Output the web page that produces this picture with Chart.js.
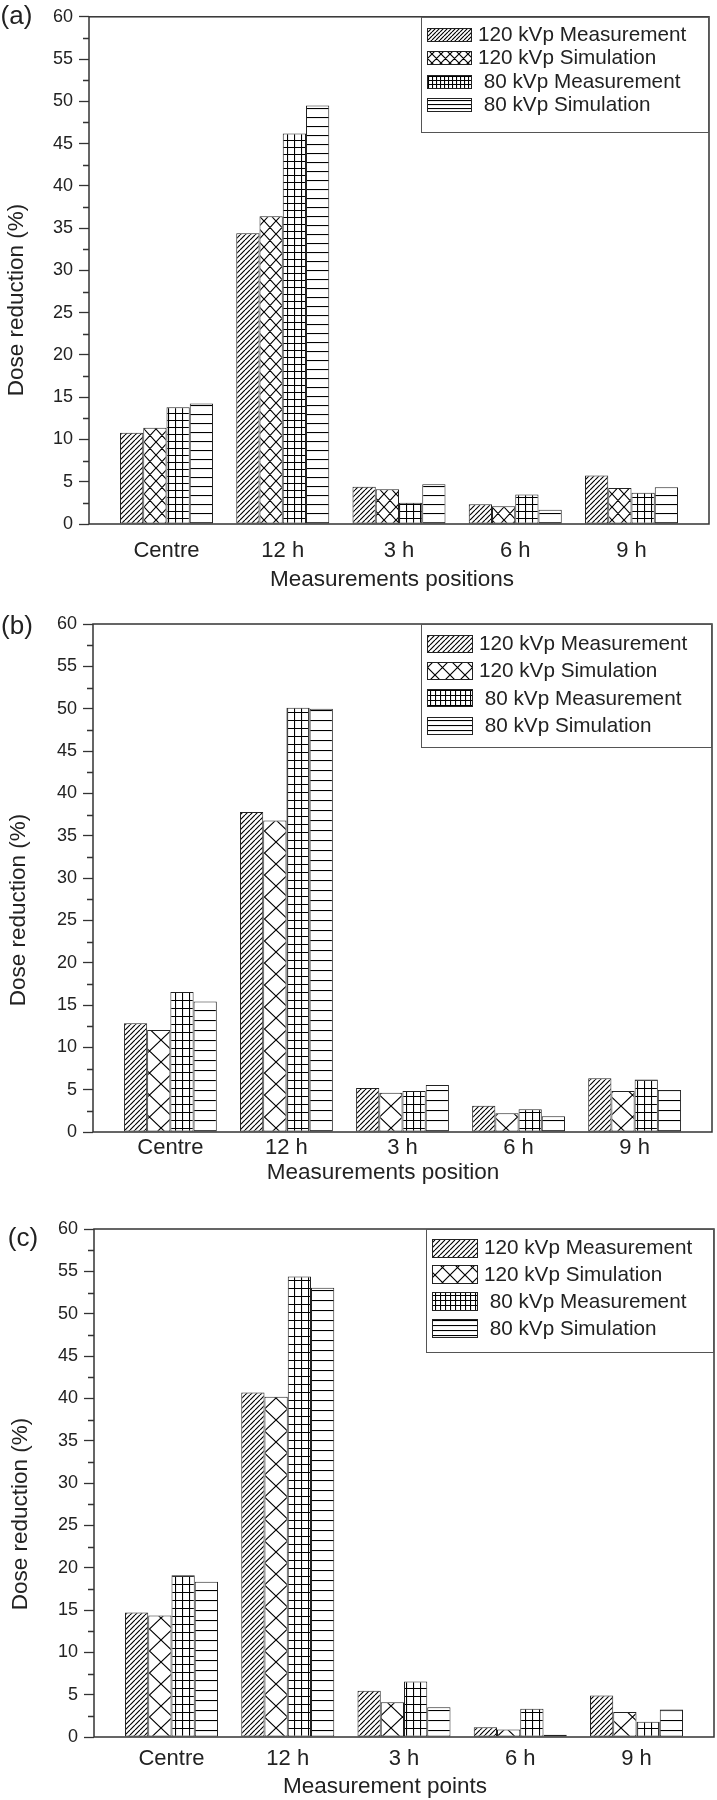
<!DOCTYPE html>
<html>
<head>
<meta charset="utf-8">
<script src="https://cdn.jsdelivr.net/npm/chart.js@4.4.1/dist/chart.umd.min.js"></script>
<style>
  body { margin: 0; background: #fff; }
  canvas { display: block; }
</style>
</head>
<body>
<canvas id="chartA" width="717" height="600"></canvas>
<canvas id="chartB" width="717" height="600"></canvas>
<canvas id="chartC" width="717" height="600"></canvas>
<script>
// ---- data ----
var categories = ['Centre', '12 h', '3 h', '6 h', '9 h'];
var seriesNames = ['120 kVp Measurement', '120 kVp Simulation', ' 80 kVp Measurement', ' 80 kVp Simulation'];
var xTitles = ['Measurements positions', 'Measurements position', 'Measurement points'];
var panelTags = ['(a)', '(b)', '(c)'];
var yTitle = 'Dose reduction (%)';
var yMin = 0, yMax = 60, yStep = 5;

// (a)
var a120Meas = [10.8, 34.4, 4.4, 2.35, 5.75];
var a120Sim  = [11.4, 36.4, 4.1, 2.1, 4.25];
var a80Meas  = [13.8, 46.2, 2.5, 3.5, 3.7];
var a80Sim   = [14.25, 49.5, 4.7, 1.7, 4.35];
// (b)
var b120Meas = [12.85, 37.8, 5.2, 3.1, 6.35];
var b120Sim  = [12.05, 36.8, 4.65, 2.2, 4.85];
var b80Meas  = [16.55, 50.1, 4.85, 2.7, 6.2];
var b80Sim   = [15.4, 50.0, 5.55, 1.85, 4.95];
// (c)
var c120Meas = [14.7, 40.7, 5.45, 1.15, 4.9];
var c120Sim  = [14.35, 40.2, 4.1, 0.9, 2.95];
var c80Meas  = [19.1, 54.4, 6.55, 3.35, 1.8];
var c80Sim   = [18.35, 53.05, 3.5, 0.27, 3.25];

var FONT = '"Liberation Sans", Arial, sans-serif';
var INK = '#222';

// hatch fills, like the black & white Origin patterns
function makePattern(kind, w, h) {
  var c = document.createElement('canvas');
  c.width = w; c.height = h;
  var g = c.getContext('2d');
  g.fillStyle = '#fff';
  g.fillRect(0, 0, w, h);
  g.strokeStyle = '#000';
  g.lineWidth = 1.15;
  g.beginPath();
  if (kind === 'diag' || kind === 'cross') {
    for (var k = -1; k <= 1; k++) {
      g.moveTo(k * w, h); g.lineTo(k * w + w, 0);
      if (kind === 'cross') { g.moveTo(k * w, 0); g.lineTo(k * w + w, h); }
    }
  } else if (kind === 'grid') {
    g.moveTo(0.5, 0); g.lineTo(0.5, h);
    g.moveTo(0, 0.5); g.lineTo(w, 0.5);
  } else {
    g.moveTo(0, 0.5); g.lineTo(w, 0.5);
  }
  g.stroke();
  return g.createPattern(c, 'repeat');
}

var kinds = ['diag', 'cross', 'grid', 'horiz'];

var panels = [
  { id: 'chartA', series: [a120Meas, a120Sim, a80Meas, a80Sim],
    area: { left: 89, top: 16, right: 709, bottom: 524 }, tickPad: 14,
    legend: { left: 421, bottom: 132, swX: 427, swW: 44, swH: 13, textX: 478, row0: 17.3, gap: 23.5 },
    tagPos: [16.5, 17], yTitlePos: [17, 300], xTitlePos: [392, 580],
    pat: [[5, 5], [12, 13], [7, 7], [9, 9]], legPat: [[4, 4], [9, 9], [4, 4], [4, 4]] },
  { id: 'chartB', series: [b120Meas, b120Sim, b80Meas, b80Sim],
    area: { left: 93, top: 24, right: 712, bottom: 532 }, tickPad: 3,
    legend: { left: 421, bottom: 147, swX: 427, swW: 45, swH: 17, textX: 479, row0: 19.5, gap: 27.2 },
    tagPos: [17, 27], yTitlePos: [19, 310], xTitlePos: [383, 573],
    pat: [[5, 5], [23, 22], [7, 8], [10, 10]], legPat: [[5, 5], [15, 15], [5, 5], [5, 5]] },
  { id: 'chartC', series: [c120Meas, c120Sim, c80Meas, c80Sim],
    area: { left: 94, top: 29, right: 714, bottom: 537 }, tickPad: 9,
    legend: { left: 426, bottom: 152, swX: 432, swW: 45, swH: 18, textX: 484, row0: 18.5, gap: 26.8 },
    tagPos: [23, 39], yTitlePos: [21, 314], xTitlePos: [385, 587],
    pat: [[5, 5], [23, 22], [7, 8], [10, 10]], legPat: [[5, 5], [15, 15], [5, 5], [5, 5]] }
];

// frame, minor ticks, legend box and texts
var decoPlugin = {
  id: 'deco',
  afterDraw: function (chart, args, o) {
    var ctx = chart.ctx, a = chart.chartArea, ys = chart.scales.y;
    ctx.save();
    ctx.strokeStyle = '#333';
    ctx.lineWidth = 1.5;
    ctx.strokeRect(a.left, a.top, a.right - a.left, a.bottom - a.top);

    ctx.lineWidth = 1.3;
    ctx.beginPath();
    for (var v = yMin + yStep / 2; v < yMax; v += yStep) {
      var py = Math.round(ys.getPixelForValue(v)) + 0.5;
      ctx.moveTo(a.left - 6, py); ctx.lineTo(a.left, py);
    }
    ctx.stroke();

    // legend
    var L = o.legend;
    ctx.strokeStyle = '#555';
    ctx.lineWidth = 1;
    ctx.strokeRect(L.left + 0.5, a.top + 0.5, a.right - L.left - 1, L.bottom - a.top);
    ctx.textBaseline = 'middle';
    ctx.textAlign = 'left';
    var fills = o.legendFills;
    var labels = chart.data.datasets.map(function (ds) { return ds.label; });
    for (var i = 0; i < labels.length; i++) {
      var cy = a.top + L.row0 + i * L.gap;
      var top = Math.round(cy - L.swH / 2) + 0.5;
      ctx.fillStyle = fills[i];
      ctx.fillRect(L.swX, top, L.swW, L.swH);
      ctx.strokeStyle = '#222';
      ctx.strokeRect(L.swX + 0.5, top, L.swW, L.swH);
      ctx.fillStyle = INK;
      ctx.font = '20.7px ' + FONT;
      ctx.fillText(labels[i], L.textX, cy + 1);
    }

    // panel tag and axis titles
    ctx.textAlign = 'center';
    ctx.font = '26px ' + FONT;
    ctx.fillText(o.tag, o.tagPos[0], o.tagPos[1]);
    ctx.font = '22.5px ' + FONT;
    ctx.fillText(o.xTitle, o.xTitlePos[0], o.xTitlePos[1]);
    ctx.translate(o.yTitlePos[0], o.yTitlePos[1]);
    ctx.rotate(-Math.PI / 2);
    ctx.fillText(yTitle, 0, 0);
    ctx.restore();
  }
};

panels.forEach(function (p, n) {
  var ctx = document.getElementById(p.id).getContext('2d');
  var datasets = p.series.map(function (vals, i) {
    return {
      label: seriesNames[i],
      data: vals.map(function (v, j) { return { x: j + 1, y: v }; }),
      backgroundColor: makePattern(kinds[i], p.pat[i][0], p.pat[i][1]),
      borderColor: '#222',
      borderWidth: 1,
      borderSkipped: false,
      categoryPercentage: 0.8,
      barPercentage: 1.0
    };
  });
  var legendFills = kinds.map(function (k, i) { return makePattern(k, p.legPat[i][0], p.legPat[i][1]); });

  new Chart(ctx, {
    type: 'bar',
    data: { datasets: datasets },
    plugins: [decoPlugin],
    options: {
      responsive: false,
      animation: false,
      devicePixelRatio: 1,
      layout: { padding: { top: p.area.top, right: 717 - p.area.right, bottom: 0, left: 0 } },
      plugins: {
        legend: { display: false },
        tooltip: { enabled: false },
        deco: {
          legend: p.legend, legendFills: legendFills, tag: panelTags[n],
          tagPos: p.tagPos, xTitle: xTitles[n], xTitlePos: p.xTitlePos, yTitlePos: p.yTitlePos
        }
      },
      scales: {
        x: {
          type: 'linear',
          offset: false,
          min: 1 / 3,
          max: categories.length + 2 / 3,
          afterFit: function (s) { s.height = 600 - p.area.bottom; },
          grid: { display: false, drawTicks: false, offset: false },
          border: { display: false },
          ticks: {
            stepSize: 1,
            includeBounds: false,
            autoSkip: false,
            maxRotation: 0,
            padding: p.tickPad,
            color: INK,
            font: { family: FONT, size: 22 },
            callback: function (v) { return categories[v - 1] || ''; }
          }
        },
        y: {
          min: yMin,
          max: yMax,
          afterFit: function (s) { s.width = p.area.left; },
          grid: { drawOnChartArea: false, drawTicks: true, tickLength: 10, tickColor: '#333', tickWidth: 1.3 },
          border: { display: false },
          ticks: {
            stepSize: yStep,
            padding: 6,
            color: INK,
            font: { family: FONT, size: 18 }
          }
        }
      }
    }
  });
});
</script>
</body>
</html>
